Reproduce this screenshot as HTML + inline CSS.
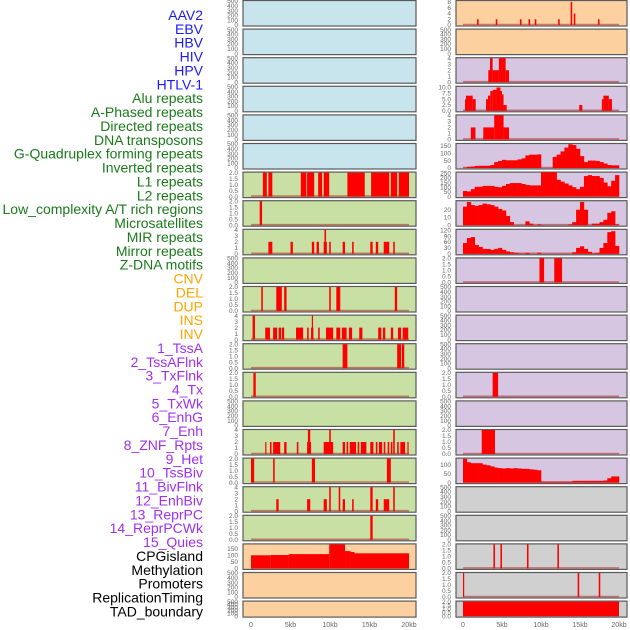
<!DOCTYPE html>
<html><head><meta charset="utf-8"><style>
html,body{margin:0;padding:0;background:#fff;}
svg{display:block;font-family:"Liberation Sans",sans-serif;}
</style></head><body>
<svg id="fig" width="630" height="630" viewBox="0 0 630 630" xmlns="http://www.w3.org/2000/svg"></svg>
<script>
// ---------- labels ----------
const labelNames = ["AAV2","EBV","HBV","HIV","HPV","HTLV-1","Alu repeats","A-Phased repeats","Directed repeats","DNA transposons","G-Quadruplex forming repeats","Inverted repeats","L1 repeats","L2 repeats","Low_complexity A/T rich regions","Microsatellites","MIR repeats","Mirror repeats","Z-DNA motifs","CNV","DEL","DUP","INS","INV","1_TssA","2_TssAFlnk","3_TxFlnk","4_Tx","5_TxWk","6_EnhG","7_Enh","8_ZNF_Rpts","9_Het","10_TssBiv","11_BivFlnk","12_EnhBiv","13_ReprPC","14_ReprPCWk","15_Quies","CPGisland","Methylation","Promoters","ReplicationTiming","TAD_boundary"];
const labelGroups = [0,0,0,0,0,0,1,1,1,1,1,1,1,1,1,1,1,1,1,2,2,2,2,2,3,3,3,3,3,3,3,3,3,3,3,3,3,3,3,4,4,4,4,4];
// ---------- tick label sets ----------
const ticksEmpty = [0,100,200,300,400,500];
const ticks2 = [0,0.5,1,1.5,2];
const ticks4 = [0,1,2,3,4];
const ticks8 = [0,2,4,6,8];
const ticks10 = [0,2.5,5,7.5,10];
const ticks150 = [0,50,100,150];
const ticks250 = [0,50,100,150,200,250];
const ticks20 = [0,10,20];
const ticks120 = [0,30,60,90,120];
const ticks100 = [0,50,100];
const xTickValues = [0,5,10,15,20];
const xTickLabels = ["0","5kb","10kb","15kb","20kb"];
// ---------- interval data [startKb, endKb, value] ----------
const L6 = [[1.5,2.0,2],[2.2,2.7,2],[6.3,7.0,2],[7.1,8.0,2],[8.5,9.0,2],[9.2,9.9,2],[12.2,14.4,2],[15.2,17.5,2],[17.7,18.5,2],[18.7,20.0,2]];
const L7 = [[1.1,1.4,2]];
const L8 = [[2.2,2.7,2],[5.0,5.3,2],[7.7,8.0,2],[8.3,8.6,2],[9.2,9.6,2],[9.3,9.5,4],[9.9,10.1,2],[11.6,11.9,2],[12.8,13.0,2],[15.1,15.4,2],[15.8,16.1,2],[16.8,17.5,2],[18.0,18.2,2]];
const L10 = [[1.3,1.5,2],[3.2,3.9,2],[4.2,4.5,2],[9.9,10.1,2],[10.8,11.3,2],[18.2,18.5,2]];
const L11 = [[0.2,0.5,4],[1.8,2.4,2],[2.8,3.3,2],[3.5,3.8,2],[3.9,4.2,2],[5.7,6.6,2],[7.1,7.3,2],[7.6,7.9,2],[7.7,7.8,4],[8.5,8.7,2],[9.5,10.4,2],[10.8,11.3,2],[11.5,12.1,2],[12.4,12.8,2],[13.7,14.1,2],[16.1,16.5,2],[16.7,17.0,2],[17.7,18.0,2],[18.6,19.0,2],[19.2,19.9,2]];
const L12 = [[11.6,12.2,2],[18.5,19.0,2],[19.1,19.4,2]];
const L13 = [[0.3,0.6,2]];
const L15 = [[1.8,1.9,2],[2.4,2.6,2],[2.8,3.7,2],[4.2,4.5,2],[5.8,6.0,2],[7.1,7.6,2],[7.2,7.5,4],[9.2,10.4,2],[9.9,10.1,4],[11.6,11.9,2],[12.1,12.3,2],[12.5,13.3,2],[13.5,13.7,2],[13.9,14.6,2],[15.1,15.5,2],[15.8,16.0,2],[16.2,16.6,2],[16.8,17.0,2],[17.3,17.5,2],[17.7,17.9,2],[18.0,18.2,4],[18.5,18.7,2],[18.9,19.5,2],[19.8,19.9,2]];
const L16 = [[0.0,0.4,2],[2.8,3.0,2],[7.7,8.1,2],[17.2,17.7,2]];
const L17 = [[3.2,3.5,2],[7.1,7.5,2],[9.2,9.6,2],[9.9,10.1,4],[11.1,11.3,4],[11.6,11.9,2],[12.8,13.0,2],[15.1,15.4,4],[15.8,16.1,2],[16.8,17.5,2],[18.0,18.2,4]];
const L18 = [[15.1,15.4,2]];
const L19 = [[0.0,2.5,100],[2.5,4.8,102],[4.8,9.9,109],[9.9,11.9,183],[11.9,12.6,132],[12.6,13.1,125],[13.1,20.0,115]];
const R0 = [[1.8,2.0,2],[4.2,4.4,2],[7.3,7.5,2],[8.4,8.6,2],[9.2,9.4,2],[12.2,12.4,2],[13.8,14.0,8],[14.2,14.4,4],[17.3,17.5,2]];
const R2 = [[3.24,3.46,2],[3.46,3.8,4],[3.8,4.6,2],[4.6,5.47,4],[5.47,5.9,2]];
const R3 = [[0.26,0.38,5],[0.38,1.24,6.5],[1.24,1.63,5],[2.95,3.2,5],[3.2,3.5,6.5],[3.5,3.8,8.5],[3.8,4.3,9],[4.3,4.8,10],[4.8,5.0,8.5],[5.0,5.2,7],[5.2,5.6,2.5],[14.9,15.3,2.5],[17.8,18.0,5],[18.0,18.7,6.5],[18.7,19.1,5]];
const R4 = [[1.0,1.6,2],[2.6,3.4,2],[3.4,4.0,2],[4.0,5.2,4],[5.2,5.9,2]];
const R9 = [[9.8,10.4,2],[11.7,12.7,2]];
const R13 = [[3.8,4.5,2]];
const R15 = [[2.4,4.1,2]];
const R19 = [[3.9,4.1,2],[4.8,5.0,2],[8.2,8.4,2],[12.1,12.3,2]];
const R20 = [[0.0,0.15,2],[14.7,14.9,2],[17.4,17.6,2]];
const R21 = [[0.0,20.0,2]];
// ---------- profile data (values per 0.5kb bin) ----------
const R5 = [2,8,10,14,15,15,15,20,40,48,55,52,52,52,58,65,85,90,90,92,0,0,0,75,90,112,138,160,155,130,80,40,50,50,48,40,30,20,18,18];
const R6 = [60,55,80,105,105,115,115,115,105,100,115,135,145,145,145,135,125,120,120,120,260,260,260,260,180,160,140,120,100,80,105,220,230,220,220,200,150,110,170,230];
const R7 = [24,30,26,25,26,28,27,26,24,21,19,12,4,0,0,0,5,2,0,1,0,0,0,0,0,0,0,1,4,20,30,20,0,2,2,4,7,16,18,1];
const R8 = [55,80,85,45,35,25,25,20,25,30,20,12,8,5,2,1,5,0,0,6,0,0,0,0,0,0,0,0,8,30,38,25,10,2,5,30,55,110,115,40];
const R17 = [135,115,110,110,110,102,98,92,85,82,80,82,80,82,80,78,78,75,73,70,5,5,5,5,5,5,5,5,10,10,10,10,10,10,10,10,12,25,35,35];

const NS="http://www.w3.org/2000/svg";
const svg=document.getElementById('fig');
function mk(tag,attrs,parent){const e=document.createElementNS(NS,tag);for(const k in attrs)e.setAttribute(k,attrs[k]);(parent||svg).appendChild(e);return e;}

const BG={b:"#c8e4ec",g:"#c8e0a4",o:"#fdd0a0",p:"#d6c6e2",y:"#d0d0d0"};
const leftPanels=[
 ["b",500,ticksEmpty,0,null,null],["b",500,ticksEmpty,0,null,null],["b",500,ticksEmpty,0,null,null],
 ["b",500,ticksEmpty,0,null,null],["b",500,ticksEmpty,0,null,null],["b",500,ticksEmpty,0,null,null],
 ["g",2,ticks2,1,L6,null],["g",2,ticks2,1,L7,null],["g",4,ticks4,0,L8,null],["g",500,ticksEmpty,0,null,null],
 ["g",2,ticks2,1,L10,null],["g",4,ticks4,0,L11,null],["g",2,ticks2,1,L12,null],["g",2,ticks2,1,L13,null],
 ["g",500,ticksEmpty,0,null,null],["g",4,ticks4,0,L15,null],["g",2,ticks2,1,L16,null],["g",4,ticks4,0,L17,null],
 ["g",2,ticks2,1,L18,null],["o",183,ticks150,0,L19,null],["o",500,ticksEmpty,0,null,null],["o",500,ticksEmpty,0,null,null]
];
const rightPanels=[
 ["o",8.3,ticks8,0,R0,null],["o",500,ticksEmpty,0,null,null],["p",4,ticks4,0,R2,null],["p",10.3,ticks10,1,R3,null],
 ["p",4,ticks4,0,R4,null],["p",162,ticks150,0,null,R5],["p",257,ticks250,0,null,R6],["p",31,ticks20,0,null,R7],
 ["p",122,ticks120,0,null,R8],["p",2,ticks2,1,R9,null],["p",500,ticksEmpty,0,null,null],["p",500,ticksEmpty,0,null,null],
 ["p",500,ticksEmpty,0,null,null],["p",2,ticks2,1,R13,null],["p",500,ticksEmpty,0,null,null],["p",2,ticks2,1,R15,null],
 ["p",136,ticks100,0,null,R17],["y",500,ticksEmpty,0,null,null],["y",500,ticksEmpty,0,null,null],
 ["y",2,ticks2,1,R19,null],["y",2,ticks2,1,R20,null],["y",2,ticks2,1,R21,null]
];
const COLS=[{px0:243,pw:173,x0:251,x1:409,tx:238},{px0:456,pw:171,x0:463,x1:619,tx:451}];
const PITCH=28.6;

function drawPanel(col,row,spec){
  const [bg,ymax,ticks,dec,ints,bins]=spec;
  const c=COLS[col];
  const PH = row===21 ? 16 : 25.5;
  const top=0.5+row*PITCH;
  const zero=top+PH-1, plotH=PH-1.5;
  const xs=v=>c.x0+(v/20)*(c.x1-c.x0);
  const ys=v=>zero-(v/ymax)*plotH;
  const g=mk('g',{});
  
  
  const r=mk('rect',{x:c.px0,y:top,width:c.pw,height:PH,fill:BG[bg],stroke:"#5a5a5a","stroke-width":1.2},g);
  
  
  ticks.forEach(t=>{
    const tt=mk('text',{x:c.tx,y:ys(t)+2.2,"font-size":6.5,fill:"#666","text-anchor":"end"},g);
    
    
    tt.textContent=t.toFixed(dec);
  });
  if(ints||bins){
    const bl=mk('line',{x1:xs(0),x2:xs(20),y1:zero-0.5,y2:zero-0.5,stroke:"rgba(170,0,0,0.45)","stroke-width":1.6},g);
    
    
  }
  if(ints) ints.forEach(iv=>{
    const x=xs(iv[0]),w=Math.max(1.2,xs(iv[1])-x),y=ys(iv[2]);
    const b=mk('rect',{x:x,y:y,width:w,height:zero-y,fill:"#ff0000"},g);
    
    
  });
  if(bins) bins.forEach((v,i)=>{
    if(v<=0) return;
    const x=xs(i*0.5),w=xs((i+1)*0.5)-x+0.3,y=ys(v);
    const b=mk('rect',{x:x,y:y,width:w,height:zero-y,fill:"#ff0000"},g);
    
    
  });
}
leftPanels.forEach((p,i)=>drawPanel(0,i,p));
rightPanels.forEach((p,i)=>drawPanel(1,i,p));

[0,1].forEach(col=>{
  const c=COLS[col];
  xTickValues.forEach((v,i)=>{
    const t=mk('text',{x:c.x0+(v/20)*(c.x1-c.x0),y:627,"font-size":7,fill:"#666","text-anchor":"middle"});
    
    
    t.textContent=xTickLabels[i];
  });
});

const GROUP_COLORS=["#1a1aff","#1a7a1a","#ffa500","#a030f0","#000000"];
labelNames.forEach((n,i)=>{
  const t=mk('text',{x:203,y:15+i*13.87+5,"font-size":14,fill:GROUP_COLORS[labelGroups[i]],"text-anchor":"end"});
  
  
  t.textContent=n;
});
</script>
</body></html>
